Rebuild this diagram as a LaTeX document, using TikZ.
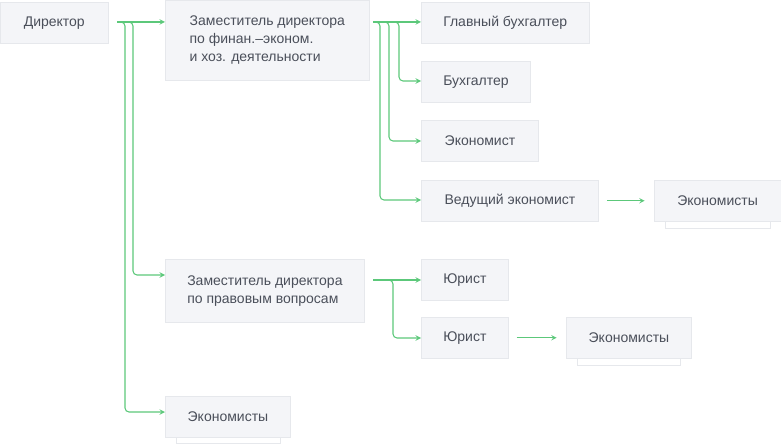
\documentclass[tikz,border=0pt]{standalone}
\usepackage{fontspec}
\setmainfont{Liberation Sans}
\usetikzlibrary{positioning}
\definecolor{boxfill}{HTML}{F4F5F8}
\definecolor{boxline}{HTML}{E6E8EC}
\definecolor{linkgreen}{HTML}{5CC87A}
\definecolor{txt}{HTML}{4A4F5A}
\tikzset{>=stealth,
    box/.style={draw=boxline, fill=boxfill, anchor=north west, inner xsep=16.5pt,
        text=txt, font=\fontsize{10.5}{13.5}\selectfont, align=left, minimum height=30.75pt},
    stack/.style={draw=boxline, fill=white},
    link/.style={draw=linkgreen, thick, ->, rounded corners=3pt}
}
\begin{document}
\begin{tikzpicture}[x=0.75pt, y=-0.75pt]
    \useasboundingbox (0, 0) rectangle (781, 445);
    % boxes
    \node[box, minimum width=81pt] (dir) at (0, 2) {Директор};
    \node[box, minimum width=153pt, minimum height=60pt] (fin) at (165, 0) {Заместитель директора\\по финан.–эконом.\\и хоз. деятельности};
    \node[box, minimum width=125pt] (gb) at (421, 2) {Главный бухгалтер};
    \node[box, minimum width=82pt] (bu) at (421, 61) {Бухгалтер};
    \node[box, minimum width=88pt] (ek) at (421, 120) {Экономист};
    \node[box, minimum width=133pt] (ve) at (421, 180) {Ведущий экономист};
    \draw[stack] (665, 221) rectangle (770, 228);
    \node[box, minimum width=95pt] (es1) at (654, 180) {Экономисты};
    \node[box, minimum width=149pt, minimum height=47pt] (pr) at (165, 259) {Заместитель директора\\по правовым вопросам};
    \node[box, minimum width=65pt] (yu1) at (421, 259) {Юрист};
    \node[box, minimum width=65pt] (yu2) at (421, 317) {Юрист};
    \draw[stack] (577, 358) rectangle (680, 365);
    \node[box, minimum width=94pt] (es2) at (566, 317) {Экономисты};
    \draw[stack] (176, 436) rectangle (280, 443);
    \node[box, minimum width=94pt] (es3) at (165, 396) {Экономисты};
    % connectors
    \coordinate (d0) at (117, 22);
    \draw[link] (d0) -- (fin.west |- d0);
    \draw[link] (d0) -| (133, 275) -- (pr.west |- 0, 275);
    \draw[link] (d0) -| (125, 412) -- (es3.west |- 0, 412);
    \coordinate (f0) at (373, 22);
    \draw[link] (f0) -- (gb.west |- f0);
    \draw[link] (f0) -| (399, 81) -- (bu.west |- 0, 81);
    \draw[link] (f0) -| (389, 141) -- (ek.west |- 0, 141);
    \draw[link] (f0) -| (380, 200) -- (ve.west |- 0, 200);
    \coordinate (p0) at (373, 280);
    \draw[link] (p0) -- (yu1.west |- p0);
    \draw[link] (p0) -| (393, 338) -- (yu2.west |- 0, 338);
    \draw[link] ([xshift=6pt]ve.east) -- ([xshift=-7pt]es1.west);
    \draw[link] ([xshift=6pt]yu2.east) -- ([xshift=-7pt]es2.west);
\end{tikzpicture}
\end{document}
